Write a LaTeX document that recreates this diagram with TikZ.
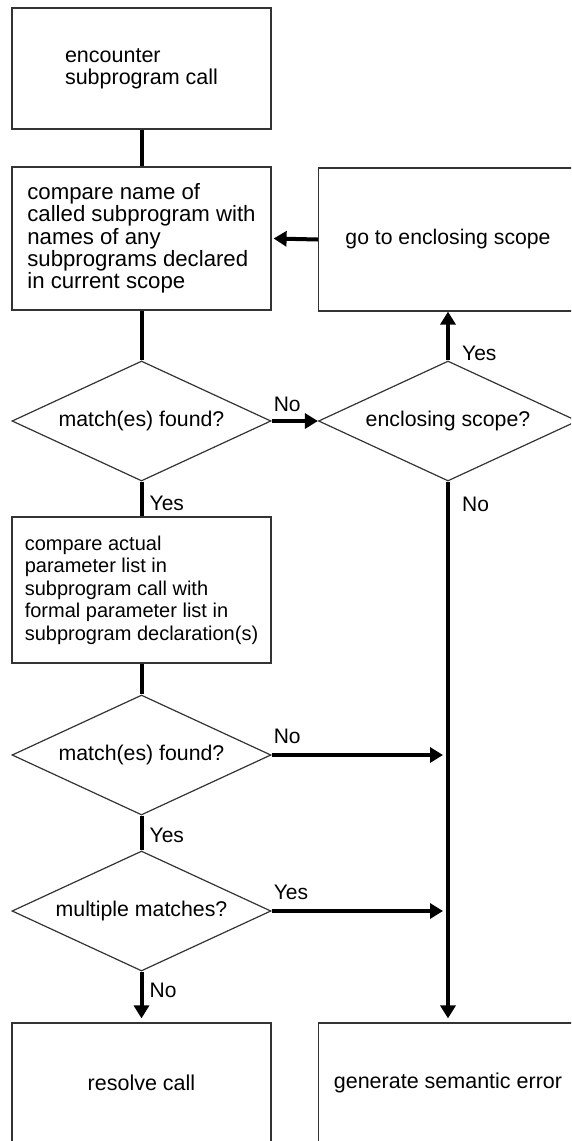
\documentclass[tikz,border=0pt]{standalone}
\usepackage{fontspec}
\setmainfont{Liberation Sans}
\usetikzlibrary{arrows.meta,calc,shapes.geometric}
\tikzset{
	stepbox/.style={draw=black!80, line width=1.2pt, minimum width=259pt, align=left, inner sep=0pt, font=\fontsize{21.5}{22.3}\selectfont},
	query/.style={diamond, draw=black!80, line width=1.2pt, aspect=2.15, minimum width=259pt, minimum height=120pt, inner sep=0pt, font=\fontsize{21.3}{22.3}\selectfont},
	answer/.style={inner sep=0pt, font=\fontsize{21}{22.3}\selectfont},
	flow/.style={line width=4pt},
	flowarrow/.style={flow, -{Triangle[length=13pt,width=15pt]}}
}

\begin{document}
\begin{tikzpicture}[x=1pt, y=-1pt]
			%%%%% START %%%%%
			\clip (0, 0) rectangle (571, 1141);
			
			\node[stepbox, minimum height=121pt] (encounter) at (141.5, 68.5) {encounter\\subprogram call};
			\node[stepbox, minimum height=143pt, font=\fontsize{22.2}{22.3}\selectfont] (cmpname) at (141.5, 238.5) {compare name of\\called subprogram with\\names of any\\subprograms declared\\in current scope};
			\node[stepbox, minimum height=143pt, align=center, font=\fontsize{21.2}{22.3}\selectfont] (goup) at (448, 239.5) {go to enclosing scope};
			
			\node[query] (found) at (141.5, 421) {match(es) found?};
			\node[query] (enclosing) at (448, 421) {enclosing scope?};
			
			\node[stepbox, minimum height=146pt, font=\fontsize{20}{22.5}\selectfont] (cmpparams) at (141.5, 590) {compare actual\\parameter list in\\subprogram call with\\formal parameter list in\\subprogram declaration(s)};
			
			\node[query] (pfound) at (141.5, 755) {match(es) found?};
			\node[query] (multiple) at (141.5, 911) {multiple matches?};
			
			\node[stepbox, minimum height=120pt, align=center] (resolve) at (141.5, 1083) {resolve call};
			\node[stepbox, minimum height=120pt, align=center] (semerror) at (448, 1083) {generate semantic error};
			
			\coordinate (joinA) at ($(pfound.east -| enclosing.south)+(-5, 0)$);
			\coordinate (joinB) at ($(multiple.east -| enclosing.south)+(-5, 0)$);
			
			\draw[flow] (encounter) -- (cmpname);
			\draw[flow] (cmpname) -- (found);
			\draw[flowarrow] (found.east) -- (enclosing.west);
			\draw[flowarrow] (enclosing.north) -- (goup.south);
			\draw[flowarrow] (goup.west) -- ($(cmpname.east)+(2, 0)$);
			\draw[flow] (found) -- (cmpparams);
			\draw[flow] (cmpparams) -- (pfound);
			\draw[flowarrow] (pfound.east) -- (joinA);
			\draw[flow] (pfound) -- (multiple);
			\draw[flowarrow] (multiple.east) -- (joinB);
			\draw[flowarrow, shorten >=4pt] (multiple.south) -- (resolve.north);
			\draw[flowarrow, shorten >=4pt] (enclosing.south) -- (semerror.north);
			
			\node[answer, anchor=south west] (noA) at ($(found.east)+(2, -9)$) {No};
			\node[answer, anchor=south west] (yesA) at ($(enclosing.north)+(14, 0)$) {Yes};
			\node[answer, anchor=north west] (noB) at ($(enclosing.south)+(14, 15)$) {No};
			\node[answer, anchor=north west] (yesB) at ($(found.south)+(8, 14)$) {Yes};
			\node[answer, anchor=south west] (noC) at ($(pfound.east)+(2, -11)$) {No};
			\node[answer, anchor=north west] (yesC) at ($(pfound.south)+(8, 12)$) {Yes};
			\node[answer, anchor=south west] (yesD) at ($(multiple.east)+(2, -11)$) {Yes};
			\node[answer, anchor=north west] (noD) at ($(multiple.south)+(8, 11)$) {No};
			
			%%%%% END %%%%%
		\end{tikzpicture}
\end{document}
